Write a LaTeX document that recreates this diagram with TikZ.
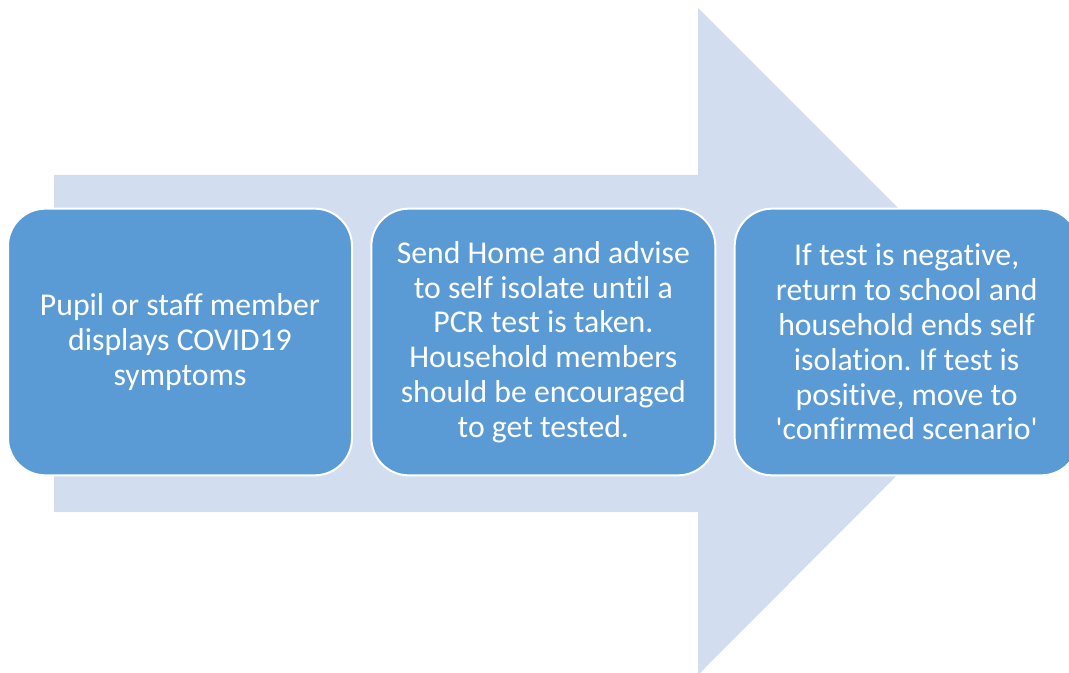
\documentclass[tikz,border=0pt]{standalone}
\usepackage{fontspec}
\setmainfont{Carlito}[Ligatures=NoCommon]
\usetikzlibrary{positioning}
\definecolor{arrowfill}{RGB}{210,222,239}
\definecolor{stageblue}{RGB}{91,155,213}
\frenchspacing

\begin{document}
\begin{tikzpicture}[
        x=0.75pt, y=-0.75pt,
        stage/.style={rectangle, rounded corners=28pt, fill=stageblue, draw=white,
          line width=1.5pt, minimum width=258pt, minimum height=200pt,
          text=white, align=center, inner sep=0pt,
          font=\fontsize{23.8}{26.1}\selectfont}]

      \useasboundingbox (0,0) rectangle (1069,673);
      \clip (0,0) rectangle (1069,673);

      % big arrow behind the steps
      \fill[arrowfill] (54,175) -- (698,175) -- (698,8) -- (1031,341)
        -- (698,675) -- (698,512) -- (54,512) -- cycle;

      \node[stage] (s1) at (180,342) {Pupil or staff member\\displays COVID19\\symptoms};
      \node[stage, right=13pt of s1] (s2) {Send Home and advise\\to self isolate until a\\PCR test is taken.\\Household members\\should be encouraged\\to get tested.};
      \node[stage, right=13pt of s2] (s3) {If test is negative,\\return to school and\\household ends self\\isolation. If test is\\positive, move to\\\textquotesingle confirmed scenario\textquotesingle};

    \end{tikzpicture}
\end{document}
